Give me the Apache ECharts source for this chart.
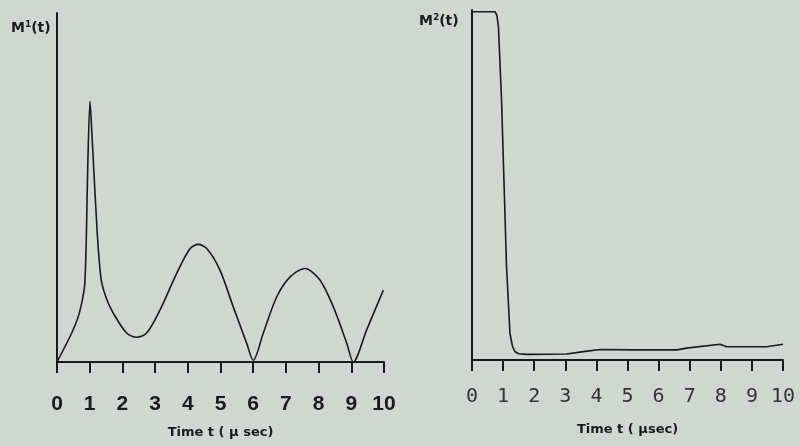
<!DOCTYPE html>
<html>
<head>
<meta charset="utf-8">
<script src="https://cdn.jsdelivr.net/npm/echarts@6/dist/echarts.min.js"></script>
<style>
  html, body { margin: 0; padding: 0; background: #d0d7d2; }
  #chart { width: 800px; height: 446px; }
</style>
</head>
<body>
<div id="chart"></div>
<script>
// time axis ticks (microseconds)
const timeTicks = [0, 1, 2, 3, 4, 5, 6, 7, 8, 9, 10];

// M1(t) (relative units, 1 = top of axis)
const m1Time  = [0, 0.45, 0.65, 0.78, 0.85, 0.90, 0.94, 1.01, 1.07, 1.12, 1.23, 1.31, 1.37, 1.52, 1.72, 2.13, 2.44, 2.74, 3.15, 3.66, 4.07, 4.32, 4.58, 4.98, 5.39, 5.80, 6.0, 6.31, 6.72, 7.13, 7.58, 8.04, 8.45, 8.86, 9.06, 9.47, 9.98];
const m1Value = [0, 0.083, 0.13, 0.18, 0.226, 0.37, 0.56, 0.746, 0.65, 0.56, 0.37, 0.27, 0.226, 0.18, 0.14, 0.083, 0.071, 0.083, 0.149, 0.254, 0.325, 0.337, 0.325, 0.264, 0.158, 0.054, 0.005, 0.083, 0.187, 0.244, 0.268, 0.235, 0.158, 0.054, 0.0, 0.092, 0.206];

// M2(t)
const m2Time  = [0, 0.74, 0.80, 0.85, 0.95, 1.03, 1.11, 1.22, 1.30, 1.38, 1.50, 1.76, 3.04, 3.58, 4.12, 5.19, 6.58, 6.9, 7.97, 8.19, 9.47, 10.0];
const m2Value = [0.995, 0.995, 0.985, 0.952, 0.743, 0.505, 0.267, 0.076, 0.04, 0.024, 0.018, 0.016, 0.017, 0.024, 0.03, 0.029, 0.029, 0.034, 0.045, 0.038, 0.038, 0.045];

const ink = '#1a1a1a';

const chart = echarts.init(document.getElementById('chart'));

function xAxisFor(gridIndex, font, weight, size, color, gap, margin, name) {
  return {
    gridIndex: gridIndex,
    type: 'value',
    min: timeTicks[0],
    max: timeTicks[timeTicks.length - 1],
    interval: 1,
    name: name,
    nameLocation: 'middle',
    nameGap: gap,
    nameTextStyle: { fontFamily: 'DejaVu Sans', fontWeight: 'bold', fontSize: 13, color: ink },
    axisLine: { show: true, onZero: false, lineStyle: { color: ink, width: 2 } },
    axisTick: { show: true, length: 11, lineStyle: { color: ink, width: 2 } },
    axisLabel: { margin: margin, fontFamily: font, fontWeight: weight, fontSize: size, color: color },
    splitLine: { show: false }
  };
}

function yAxisFor(gridIndex) {
  return {
    gridIndex: gridIndex,
    type: 'value',
    min: 0,
    max: 1,
    axisLine: { show: true, lineStyle: { color: ink, width: 2 } },
    axisTick: { show: false },
    axisLabel: { show: false },
    splitLine: { show: false }
  };
}

const labelRich = {
  m: { fontFamily: 'DejaVu Sans', fontWeight: 'bold', fontSize: 14, color: ink },
  s: { fontFamily: 'DejaVu Sans', fontWeight: 'bold', fontSize: 9, color: ink, verticalAlign: 'top', padding: [0, 0, 8, 0] }
};

const option = {
  backgroundColor: '#d0d7d2',
  animation: false,
  title: [
    { text: '{m|M}{s|1}{m|(t)}', left: 6, top: 15, textStyle: { rich: labelRich } },
    { text: '{m|M}{s|2}{m|(t)}', left: 414, top: 8, textStyle: { rich: labelRich } }
  ],
  grid: [
    { left: 57, top: 13, width: 327, height: 349 },
    { left: 472, top: 10, width: 311, height: 350 }
  ],
  xAxis: [
    xAxisFor(0, 'Liberation Sans', 'bold', 21, ink, 64, 32, 'Time t ( \u00b5 sec)'),
    xAxisFor(1, 'DejaVu Sans Mono', 'normal', 20, '#333', 63, 27, 'Time t ( \u00b5sec)')
  ],
  yAxis: [yAxisFor(0), yAxisFor(1)],
  series: [
    {
      type: 'line',
      xAxisIndex: 0,
      yAxisIndex: 0,
      data: m1Time.map((t, i) => [t, m1Value[i]]),
      smooth: 0.3,
      showSymbol: false,
      lineStyle: { color: ink, width: 1.6 }
    },
    {
      type: 'line',
      xAxisIndex: 1,
      yAxisIndex: 1,
      data: m2Time.map((t, i) => [t, m2Value[i]]),
      showSymbol: false,
      lineStyle: { color: ink, width: 1.6 }
    }
  ]
};

chart.setOption(option);
</script>
</body>
</html>
